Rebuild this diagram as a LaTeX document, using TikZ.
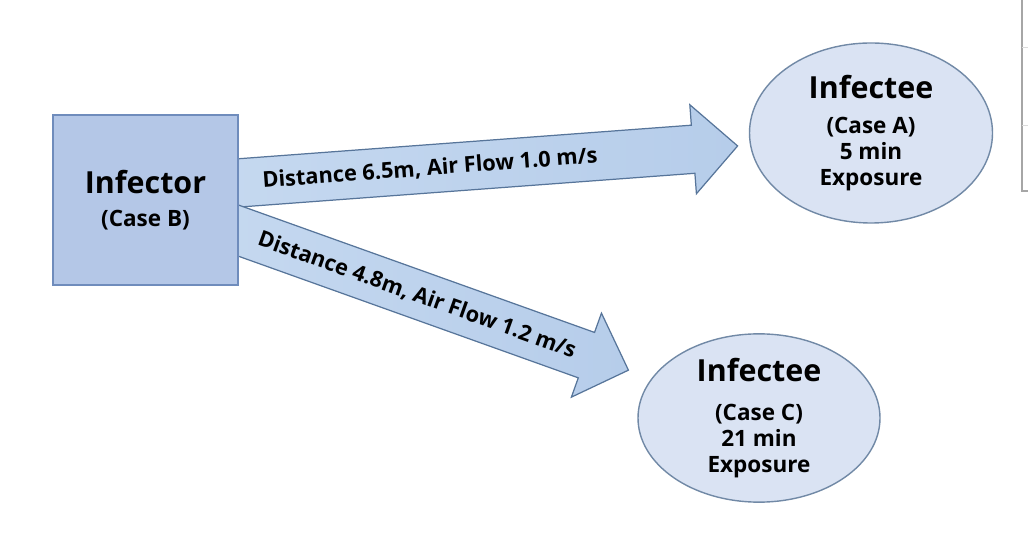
\documentclass[tikz,border=0pt]{standalone}
\usepackage{fontspec}
\setmainfont{Open Sans}
\usetikzlibrary{shapes.geometric,shapes.arrows}

\definecolor{boxblue}{HTML}{B4C7E7}
\definecolor{boxline}{HTML}{6F8CBC}
\definecolor{ovalblue}{HTML}{DAE3F3}
\definecolor{ovalline}{HTML}{7189A6}
\definecolor{arrowline}{HTML}{57759A}
\definecolor{arrowtail}{HTML}{C6D9F0}
\definecolor{arrowmid}{HTML}{DAE7F5}
\definecolor{arrowhead}{HTML}{B6CDEA}
\definecolor{framegray}{HTML}{A6A6A6}

\newcommand{\titlesize}{\fontsize{17.3}{20}\selectfont}
\newcommand{\infosize}{\fontsize{12.8}{14.8}\selectfont}

\tikzset{
  casebox/.style={rectangle, draw=boxline, fill=boxblue, line width=1pt,
    minimum width=3.7cm, minimum height=3.4cm, align=center, font=\bfseries\infosize},
  caseoval/.style={ellipse, draw=ovalline, fill=ovalblue, line width=0.8pt,
    inner sep=0pt, align=center, font=\bfseries\infosize},
  flowarrow/.style={single arrow, draw=arrowline, line width=0.7pt,
    left color=arrowtail, middle color=arrowmid, right color=arrowhead,
    single arrow head extend=0.41cm, single arrow tip angle=90,
    minimum width=1.76cm, inner xsep=0pt, inner ysep=0.47cm, anchor=tail},
  flowlabel/.style={font=\bfseries\fontsize{12.4}{14}\selectfont, inner sep=0pt}
}

\begin{document}
\begin{tikzpicture}
\useasboundingbox (0,0) rectangle (20.56,10.8);

% arrows first, the box hides their tails
\coordinate (tailA) at (4.0,7.084);
\coordinate (tailC) at (4.008,6.46);
\node[flowarrow, minimum height=10.77cm, rotate=4.24] (flowA) at (tailA) {};
\node[flowarrow, minimum height=9.08cm, rotate=-19.69] (flowC) at (tailC) {};
\node[flowlabel, rotate=4.24] (labelA) at (8.6,7.43) {Distance 6.5m, Air Flow 1.0 m/s};
\node[flowlabel, rotate=-19.69] (labelC) at (8.34,4.90) {Distance 4.8m, Air Flow 1.2 m/s};

\node[casebox] (infector) at (2.91,6.8) {\titlesize Infector\\[4pt](Case B)};
\node[caseoval, minimum width=4.86cm, minimum height=3.6cm] (caseA) at (17.42,8.14)
  {\titlesize Infectee\\[5pt](Case A)\\5 min\\Exposure};
\node[caseoval, minimum width=4.84cm, minimum height=3.36cm] (caseC) at (15.18,2.44)
  {\titlesize Infectee\\[7pt](Case C)\\21 min\\Exposure};

% edge of the cut-off table on the right
\draw[framegray, line width=0.6pt] (20.44,10.8) -- (20.44,6.98) -- (20.56,6.98);
\draw[framegray!40, line width=0.5pt] (20.44,9.86) -- (20.56,9.86);
\draw[framegray!40, line width=0.5pt] (20.44,8.3) -- (20.56,8.3);

\end{tikzpicture}
\end{document}
